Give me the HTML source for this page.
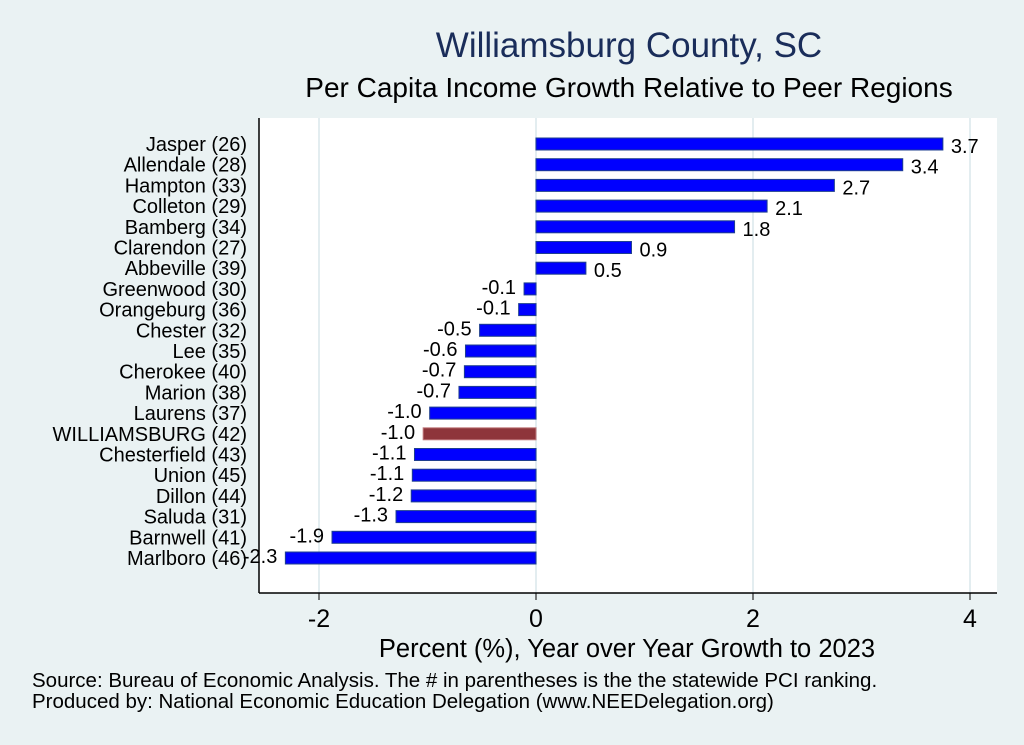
<!DOCTYPE html>
<html><head><meta charset="utf-8"><style>
body{margin:0;background:#eaf2f3;}
svg{display:block;font-family:"Liberation Sans",sans-serif;}
</style></head><body>
<svg width="1024" height="745">
<rect x="0" y="0" width="1024" height="745" fill="#eaf2f3"/>
<rect x="259" y="118" width="738" height="475" fill="#ffffff"/>
<text x="629" y="57" text-anchor="middle" font-size="35" fill="#1a2d5a">Williamsburg County, SC</text>
<text x="629" y="97" text-anchor="middle" font-size="28" fill="#000">Per Capita Income Growth Relative to Peer Regions</text>
<g id="grid"></g><g id="bars"></g><g id="axis"></g>
<text x="627" y="657" text-anchor="middle" font-size="25.5" fill="#000">Percent (%), Year over Year Growth to 2023</text>
<text x="32" y="687" font-size="20.5" fill="#000">Source: Bureau of Economic Analysis. The # in parentheses is the the statewide PCI ranking.</text>
<text x="32" y="708" font-size="20.5" fill="#000">Produced by: National Economic Education Delegation (www.NEEDelegation.org)</text>
</svg>
<script>
const categories=["Jasper (26)","Allendale (28)","Hampton (33)","Colleton (29)","Bamberg (34)","Clarendon (27)","Abbeville (39)","Greenwood (30)","Orangeburg (36)","Chester (32)","Lee (35)","Cherokee (40)","Marion (38)","Laurens (37)","WILLIAMSBURG (42)","Chesterfield (43)","Union (45)","Dillon (44)","Saluda (31)","Barnwell (41)","Marlboro (46)"];
const values=[3.75,3.38,2.75,2.13,1.83,0.88,0.46,-0.11,-0.16,-0.52,-0.65,-0.66,-0.71,-0.98,-1.04,-1.12,-1.14,-1.15,-1.29,-1.88,-2.31];
const labels=["3.7","3.4","2.7","2.1","1.8","0.9","0.5","-0.1","-0.1","-0.5","-0.6","-0.7","-0.7","-1.0","-1.0","-1.1","-1.1","-1.2","-1.3","-1.9","-2.3"];
const ticks=[-2,0,2,4];
const highlight="WILLIAMSBURG (42)";
const NS="http://www.w3.org/2000/svg";
const xs=v=>536+v*108.5;
const ys=i=>144+i*20.7;
function mk(t,a,p){const e=document.createElementNS(NS,t);for(const k in a)e.setAttribute(k,a[k]);document.getElementById(p).appendChild(e);return e;}
ticks.forEach(t=>{
 const g=mk('line',{x1:xs(t),x2:xs(t),y1:118,y2:593,stroke:'#e3edf0','stroke-width':2},'grid');
 
 
 const tk=mk('line',{x1:xs(t),x2:xs(t),y1:593,y2:600,stroke:'#000','stroke-width':1},'axis');
 
 
 const tl=mk('text',{x:xs(t),y:627,'text-anchor':'middle','font-size':25},'axis');
 tl.textContent=t;
 
 
});
const ax=mk('line',{x1:259,x2:997,y1:593,y2:593,stroke:'#000','stroke-width':1.5},'axis');


const ay=mk('line',{x1:259,x2:259,y1:118,y2:593,stroke:'#000','stroke-width':1.5},'axis');


categories.forEach((c,i)=>{
 const v=values[i],y=ys(i);
 const x0=Math.min(xs(0),xs(v)),w=Math.abs(xs(v)-xs(0));
 const hl=c===highlight;
 const r=mk('rect',{x:x0,y:y-6,width:w,height:12,fill:hl?'#8e353b':'#0000ff',stroke:hl?'#c07a7e':'#1f3f8f','stroke-width':1},'bars');
 
 
 const l=mk('text',{x:v>=0?xs(v)+8:xs(v)-8,y:v>=0?y+9:y+5,'text-anchor':v>=0?'start':'end','font-size':20},'bars');
 l.textContent=labels[i];
 
 
 const cl=mk('text',{x:247,y:y+7,'text-anchor':'end','font-size':20},'bars');
 cl.textContent=c;
 
 
});
</script>
</body></html>
